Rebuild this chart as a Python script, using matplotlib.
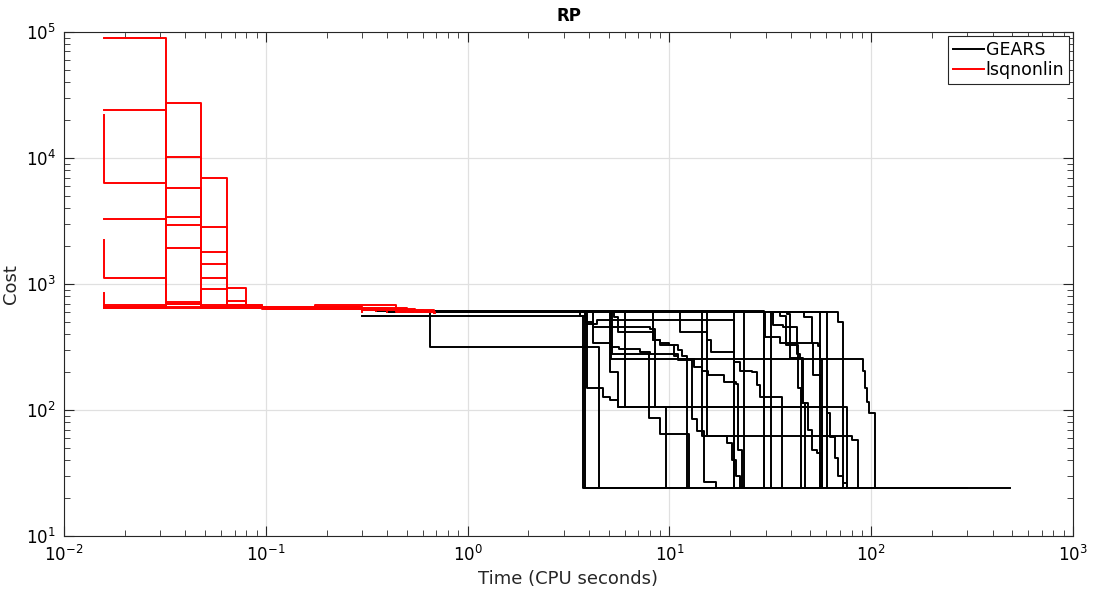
import matplotlib
matplotlib.use("Agg")
import matplotlib.pyplot as plt

plt.rcParams['font.family'] = ['DejaVu Sans']

# GEARS runs: (time, cost) break points of each staircase
gears_times = [
    [0.40, 0.65, 4.48, 20],
    [0.30, 3.73, 30],
    [0.35, 3.80, 50],
    [0.45, 3.90, 4.67, 5.05, 5.54, 75.8, 120],
    [0.50, 4.18, 5.05, 5.6, 7.14, 8.0, 11.0, 91, 93, 95, 97, 104.5, 490],
    [0.55, 5.05, 5.54, 29.3, 60],
    [0.55, 5.2, 7.9, 9.0, 12.5, 40],
    [0.6, 6.0, 12.9, 13.7, 14.8, 17.0, 60],
    [0.42, 11.3, 15.3, 16.0, 20.8, 22.3, 25.8, 27.2, 28.1, 29.3, 100],
    [0.5, 5.15, 13.2, 14.5, 15.5, 18.6, 21.5, 22.0, 23.0, 50],
    [0.6, 15.3, 19.4, 20.5, 21.5, 22.5, 40],
    [0.55, 14.5, 80, 85.9, 200],
    [0.5, 20.8, 80],
    [0.5, 23.3, 80],
    [0.45, 29.3, 100],
    [0.45, 31.7, 100],
    [0.5, 29.8, 35.2, 51.5, 55.5, 150],
    [0.5, 29.3, 36.3, 100],
    [0.55, 32.6, 36.5, 42.9, 44.4, 45.9, 48.6, 50.9, 53.9, 55.7, 200],
    [0.6, 46.5, 50.9, 54.4, 55.7, 57.0, 200],
    [0.6, 55.7, 60.4, 62.3, 66.3, 68.1, 72.3, 75.8, 200],
    [0.4, 60.4, 300],
    [0.5, 68.3, 72.5, 300],
    [0.5, 38.4, 39.8, 45.5, 47, 200],
    [0.5, 8.3, 9.0, 10.0, 11.0, 11.6, 12.2, 100],
    [0.55, 3.85, 4.18, 8.0, 8.5, 9.6, 60],
    [0.5, 5.3, 5.54, 8.3, 9.0, 10.5, 11.0, 12.9, 57.0, 100],
    [0.45, 3.6, 3.9, 4.4, 20.8, 60],
    [0.5, 35.5, 38.0, 43.3, 45.0, 80],
]
gears_costs = [
    [605, 315, 24, 24],
    [555, 24, 24],
    [615, 24, 24],
    [600, 150, 126, 120, 106, 24, 24],
    [605, 340, 315, 305, 290, 280, 254, 205, 150, 115, 95, 24, 24],
    [600, 200, 106, 24, 24],
    [600, 280, 86, 64, 24, 24],
    [600, 106, 85, 68, 27, 24, 24],
    [600, 420, 360, 290, 240, 205, 200, 157, 126, 24, 24],
    [600, 254, 220, 205, 190, 167, 160, 48, 24, 24],
    [600, 62, 55, 40, 30, 24, 24],
    [600, 62, 58, 24, 24],
    [610, 24, 24],
    [610, 24, 24],
    [610, 24, 24],
    [605, 24, 24],
    [605, 380, 340, 190, 24, 24],
    [605, 126, 24, 24],
    [605, 470, 455, 280, 257, 113, 70, 48, 46, 24, 24],
    [605, 550, 340, 320, 250, 24, 24],
    [605, 106, 95, 61, 42, 30, 26.5, 24, 24],
    [600, 24, 24],
    [600, 500, 24, 24],
    [605, 580, 260, 113, 24, 24],
    [605, 360, 340, 330, 300, 270, 24, 24],
    [600, 500, 460, 440, 106, 24, 24],
    [600, 550, 420, 360, 330, 270, 250, 106, 24, 24],
    [600, 560, 480, 520, 24, 24],
    [605, 560, 330, 150, 24, 24],
]

# lsqnonlin runs
lsq_times = [
    [0.0157, 0.032, 0.048, 0.3, 0.68],
    [0.0157, 0.032, 0.048, 0.064, 0.080, 0.096, 0.3, 0.6],
    [0.0157, 0.032, 0.048, 0.064, 0.080, 0.2, 0.55],
    [0.0157, 0.0157, 0.032, 0.048, 0.064, 0.096, 0.5],
    [0.0157, 0.032, 0.048, 0.064, 0.12, 0.45],
    [0.0157, 0.0157, 0.032, 0.048, 0.064, 0.35],
    [0.0157, 0.0157, 0.032, 0.048, 0.064, 0.3],
    [0.0157, 0.032, 0.048, 0.080, 0.4],
    [0.0157, 0.175, 0.44, 0.69],
    [0.0157, 0.032, 0.048, 0.096, 0.3],
    [0.0157, 0.064, 0.1, 0.5],
]
lsq_costs = [
    [90000, 700, 660, 620, 590],
    [650, 27400, 6930, 930, 680, 650, 620, 600],
    [24000, 10200, 2830, 733, 656, 630, 600],
    [21900, 6340, 5780, 1800, 680, 650, 610],
    [3280, 3400, 1440, 656, 630, 600],
    [2230, 1120, 1930, 1120, 650, 610],
    [850, 656, 720, 910, 656, 620],
    [680, 2940, 680, 640, 600],
    [650, 680, 600, 590],
    [640, 700, 650, 630, 600],
    [660, 650, 630, 600],
]

fig = plt.figure(figsize=(10.94, 6.01), dpi=100)
ax = fig.add_axes([0.0585, 0.108, 0.9223, 0.8388])

for i, (t, c) in enumerate(zip(gears_times, gears_costs)):
    ax.step(t, c, where='post', color='black', lw=1.4,
            label='GEARS' if i == 0 else None)
for i, (t, c) in enumerate(zip(lsq_times, lsq_costs)):
    ax.step(t, c, where='post', color='red', lw=1.4,
            label='lsqnonlin' if i == 0 else None)

ax.set_xscale('log')
ax.set_yscale('log')
ax.set_xlim(1e-2, 1e3)
ax.set_ylim(1e1, 1e5)

ax.grid(True, which='major', color='#e0e0e0', lw=0.9)
ax.set_axisbelow(True)
ax.tick_params(which='both', direction='in', top=True, right=True,
               labelsize=12, color='#262626', pad=6)
ax.tick_params(which='major', length=7)
ax.tick_params(which='minor', length=4)
for s in ax.spines.values():
    s.set_color('#262626')
    s.set_linewidth(0.8)

ax.set_title('RP', fontsize=12, fontweight='bold', pad=8)
ax.set_xlabel('Time (CPU seconds)', fontsize=13, color='#262626')
ax.set_ylabel('Cost', fontsize=13, color='#262626')

leg = ax.legend(loc='upper right', fontsize=12.5, fancybox=False,
                framealpha=1, edgecolor='#262626', handlelength=1.8,
                borderpad=0.25, labelspacing=0.15, handletextpad=0.1,
                borderaxespad=0.25)
leg.get_frame().set_linewidth(0.8)

fig.savefig('out.png', dpi=100)
